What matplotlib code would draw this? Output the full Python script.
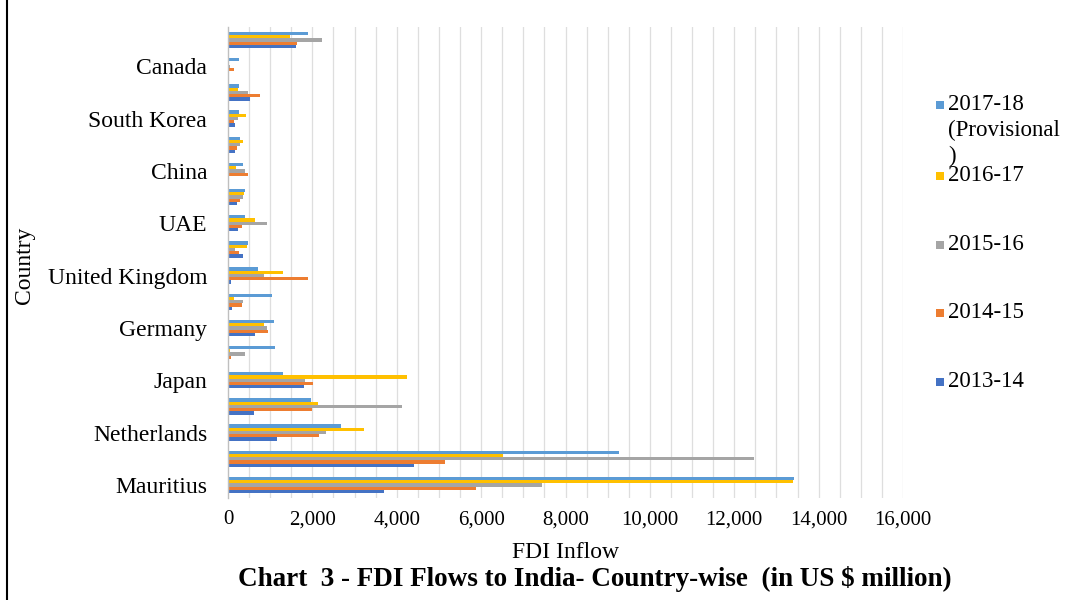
import matplotlib
matplotlib.use("Agg")
import matplotlib.pyplot as plt
from matplotlib.patches import Rectangle
from matplotlib.lines import Line2D
import numpy as np

# FDI equity inflows by source country, US$ million (bottom to top)
countries = ["Mauritius", "Singapore", "Netherlands", "USA", "Japan",
             "Cayman Islands", "Germany", "Hong Kong", "United Kingdom",
             "France", "UAE", "Switzerland", "China", "Spain",
             "South Korea", "Italy", "Canada", "Others"]

fy_2013_14 = [3695, 4415, 1157, 617, 1795, 30, 650, 85, 60,
              350, 240, 210, 30, 170, 170, 520, 30, 1610]
fy_2014_15 = [5878, 5137, 2154, 1981, 2019, 70, 942, 325, 1891,
              260, 330, 290, 480, 210, 140, 750, 140, 1630]
fy_2015_16 = [7452, 12479, 2330, 4124, 1818, 410, 927, 344, 842,
              170, 930, 350, 400, 290, 240, 470, 50, 2230]
fy_2016_17 = [13383, 6529, 3234, 2138, 4237, 50, 845, 134, 1301,
              450, 650, 380, 200, 350, 430, 240, 10, 1470]
fy_2017_18 = [13415, 9273, 2677, 1973, 1313, 1110, 1095, 1044, 716,
              470, 400, 400, 350, 290, 260, 260, 260, 1900]

series_labels = ["2013-14", "2014-15", "2015-16", "2016-17",
                 "2017-18\n(Provisional\n)"]
series_values = [fy_2013_14, fy_2014_15, fy_2015_16, fy_2016_17, fy_2017_18]
series_colors = ["#4472C4", "#ED7D31", "#A5A5A5", "#FFC000", "#5B9BD5"]

x_ticks = list(range(0, 16001, 2000))

plt.rcParams["font.family"] = ["Liberation Serif", "DejaVu Serif"]

fig = plt.figure(figsize=(10.75, 6.0), dpi=100)
ax = fig.add_axes([228 / 1075, 1 - 498 / 600, 675 / 1075, 471 / 600])

pos = np.arange(len(countries))
bar_h = 0.125
n = len(series_values)
for i, (vals, col) in enumerate(zip(series_values, series_colors)):
    ax.barh(pos + (i - (n - 1) / 2) * bar_h, vals, height=bar_h,
            color=col, edgecolor="none", zorder=3)

ax.set_xlim(0, 16000)
ax.set_ylim(-0.5, len(countries) - 0.5)

# light vertical gridlines every 500
for gx in np.arange(500, 16001, 500):
    ax.axvline(gx, color="#dedede", lw=0.9, zorder=1)

ax.set_xticks(x_ticks)
ax.set_xticklabels([f"{v:,}" for v in x_ticks], fontsize=15)
ax.set_yticks(pos[::2])
ax.set_yticklabels(countries[::2], fontsize=17)
ax.tick_params(axis="both", length=0)
ax.tick_params(axis="y", pad=15)
ax.tick_params(axis="x", pad=9)

for s in ["top", "right", "bottom"]:
    ax.spines[s].set_visible(False)
ax.spines["left"].set_color("#bfbfbf")
ax.spines["left"].set_linewidth(1.0)
ax.spines["left"].set_zorder(4)

fig.text(25 / 1075, 1 - 265 / 600, "Country", rotation=90, fontsize=17,
         ha="center", va="center")
fig.text(566 / 1075, 1 - 553 / 600, "FDI Inflow", fontsize=17,
         ha="center", va="center")
fig.text(595 / 1075, 1 - 579 / 600,
         "Chart  3 - FDI Flows to India- Country-wise  (in US $ million)",
         fontsize=19.5, fontweight="bold", ha="center", va="center")

# legend, listed with the latest year first
leg_rows = [(series_labels[4], series_colors[4], 105),
            (series_labels[3], series_colors[3], 176),
            (series_labels[2], series_colors[2], 245),
            (series_labels[1], series_colors[1], 313),
            (series_labels[0], series_colors[0], 382)]
for label, col, yc in leg_rows:
    fig.patches.append(Rectangle((936 / 1075, 1 - (yc + 4) / 600),
                                 8 / 1075, 8 / 600, facecolor=col,
                                 edgecolor="none",
                                 transform=fig.transFigure))
    fig.text(948 / 1075, 1 - (yc - 11) / 600, label, fontsize=16.5,
             ha="left", va="top", linespacing=1.3)

# outer frame on the left edge
fig.lines.append(Line2D([7 / 1075, 7 / 1075], [0, 1], color="black",
                        lw=1.5, transform=fig.transFigure))

fig.savefig("out.png", dpi=100)
